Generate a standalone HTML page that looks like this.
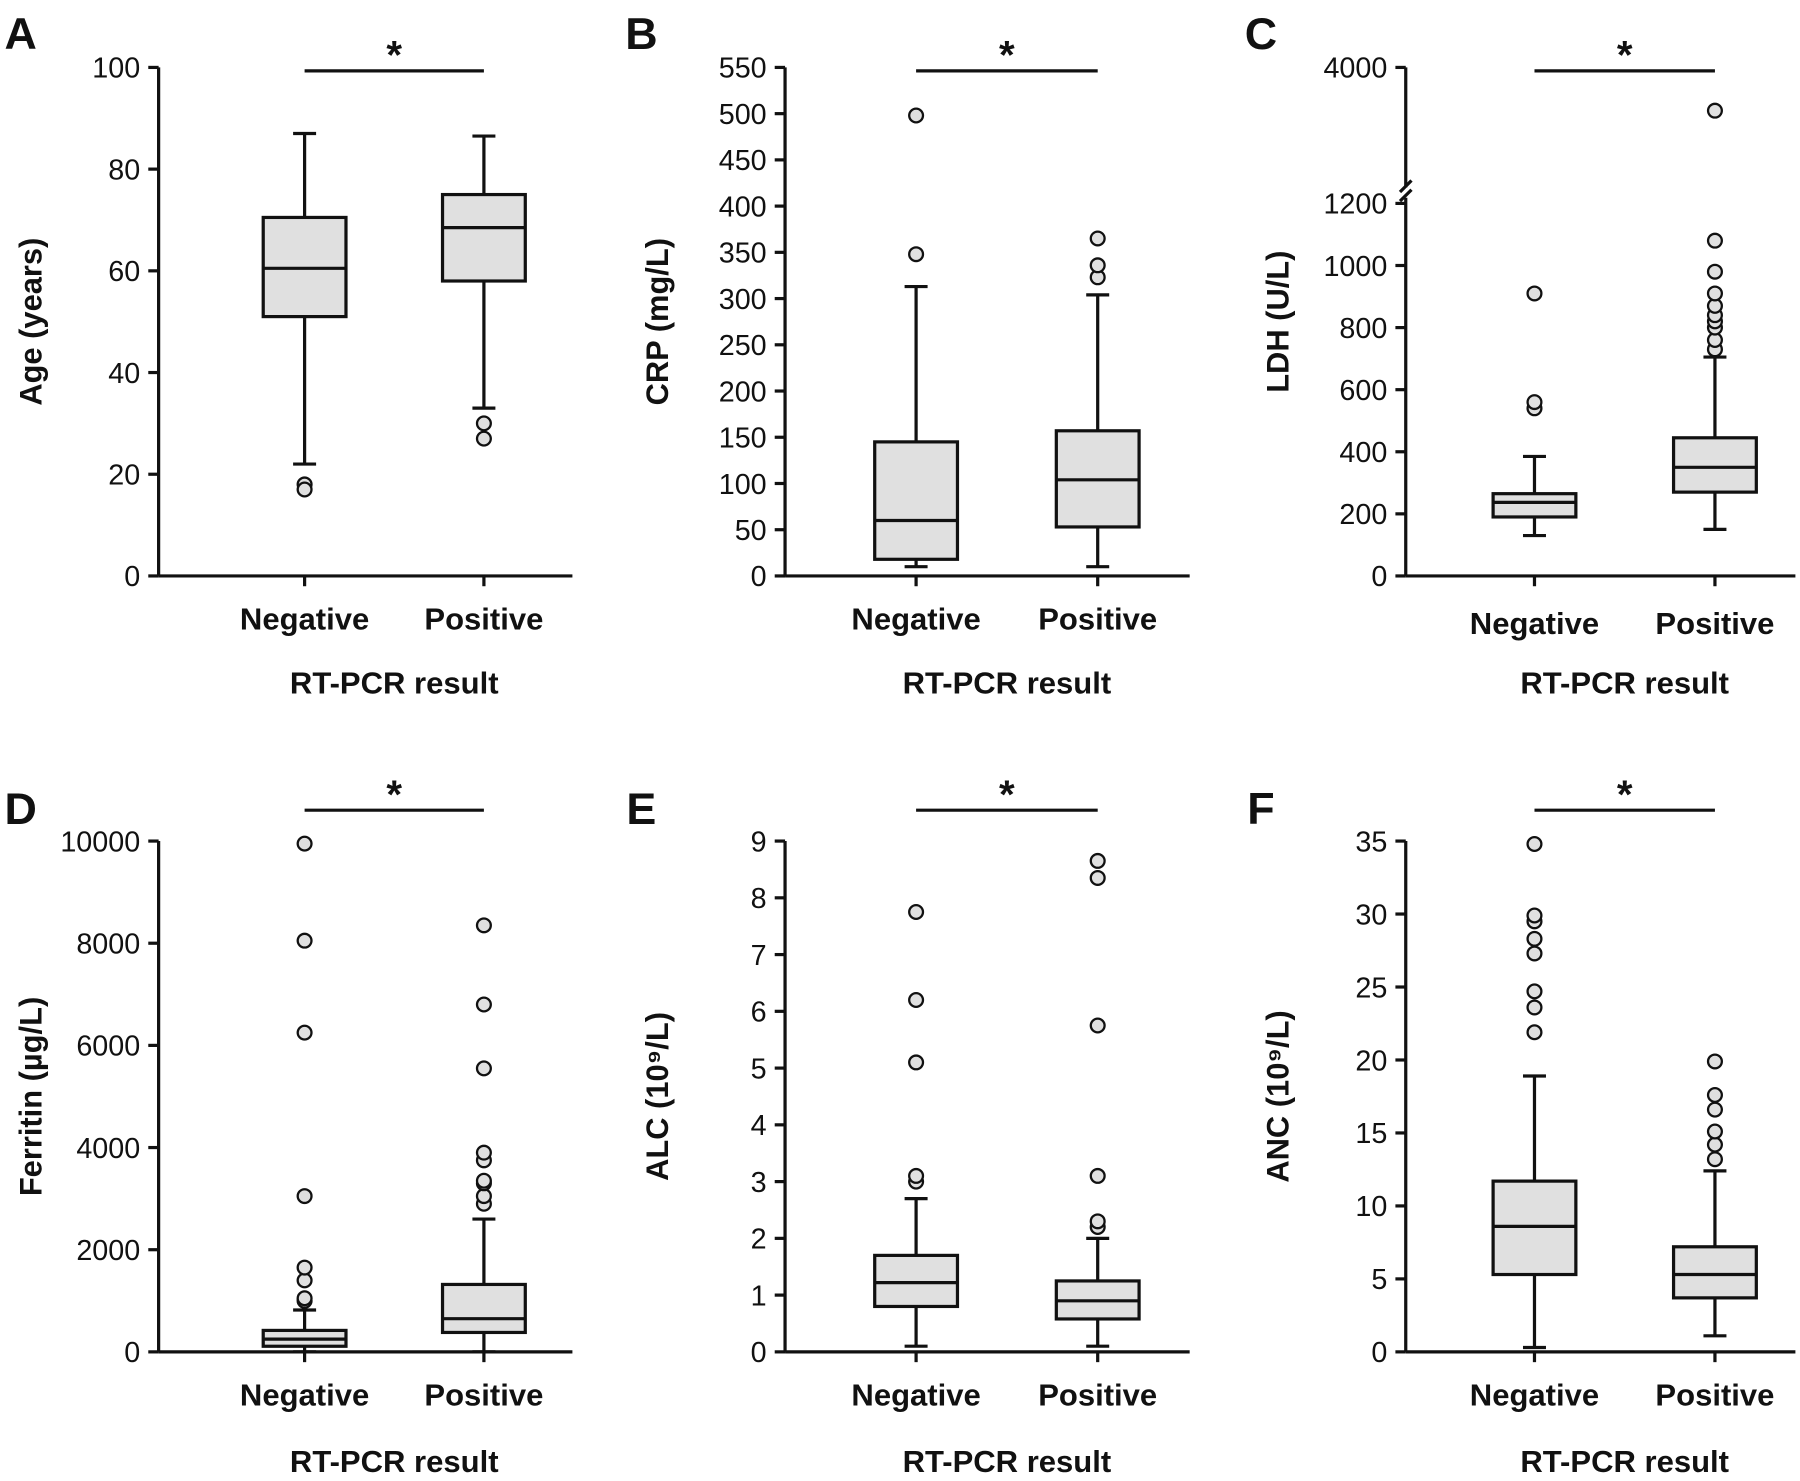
<!DOCTYPE html>
<html><head><meta charset="utf-8"><style>
html,body{margin:0;padding:0;background:#fff;}
svg{display:block;}
text{font-family:"Liberation Sans",Arial,sans-serif;fill:#111;}
</style></head><body>
<svg id="fig" width="1800" height="1481" viewBox="0 0 1566 1296" preserveAspectRatio="none" xmlns="http://www.w3.org/2000/svg"></svg>
<script>
const panelLetters = ["A","B","C","D","E","F"];
const yTitles = ["Age (years)","CRP (mg/L)","LDH (U/L)","Ferritin (µg/L)","ALC (10⁹/L)","ANC (10⁹/L)"];
const categories = ["Negative","Positive"];
const ticksA = [0,20,40,60,80,100];
const ticksB = [0,50,100,150,200,250,300,350,400,450,500,550];
const ticksC = [0,200,400,600,800,1000,1200];
const ticksD = [0,2000,4000,6000,8000,10000];
const ticksE = [0,1,2,3,4,5,6,7,8,9];
const ticksF = [0,5,10,15,20,25,30,35];
// [whiskerLow, q1, median, q3, whiskerHigh]
const statsA = [[22,51,60.5,70.5,87],[33,58,68.5,75,86.5]];
const outA = [[18,17],[30,27]];
const statsB = [[10,18,60,145,313],[10,53,104,157,304]];
const outB = [[348,498],[323,336,365]];
const statsC = [[130,190,237,265,385],[150,270,350,445,705]];
const outC = [[540,560,910],[730,760,800,820,840,870,910,980,1080,3000]];
const statsD = [[0,110,250,420,820],[0,380,650,1320,2600]];
const outD = [[1000,1050,1400,1650,3050,6250,8050,9950],[2900,3050,3300,3350,3750,3900,5550,6800,8350]];
const statsE = [[0.1,0.8,1.22,1.7,2.7],[0.1,0.58,0.9,1.25,2.0]];
const outE = [[3.0,3.1,5.1,6.2,7.75],[2.2,2.3,3.1,5.75,8.35,8.65]];
const statsF = [[0.3,5.3,8.6,11.7,18.9],[1.1,3.7,5.3,7.2,12.4]];
const outF = [[21.9,23.6,24.7,27.3,28.3,29.5,29.9,34.8],[13.2,14.2,15.1,16.6,17.6,19.9]];

const NS="http://www.w3.org/2000/svg";
const svg=document.getElementById('fig');
const SW=2.8;
function mk(tag,attrs,parent,txt){const e=document.createElementNS(NS,tag);for(const k in attrs)e.setAttribute(k,attrs[k]);if(txt!==undefined)e.textContent=txt;(parent||svg).appendChild(e);return e;}

const panels=[
 {ax:138,x0:265,x1:421,xe:498,y0:504,yt:59,max:100,ticks:ticksA,stats:statsA,out:outA,lx:18,ly:30,sy:62,cly:541,tly:597},
 {ax:683,x0:797,x1:955,xe:1035,y0:504,yt:59,max:550,ticks:ticksB,stats:statsB,out:outB,lx:558,ly:30,sy:62,cly:541,tly:597},
 {ax:1223,x0:1335,x1:1492,xe:1562,y0:504,yt:178,max:1200,ticks:ticksC,stats:statsC,out:outC,lx:1097,ly:30,sy:62,cly:545,tly:597,brk:true},
 {ax:138,x0:265,x1:421,xe:498,y0:1183,yt:736,max:10000,ticks:ticksD,stats:statsD,out:outD,lx:18,ly:708,sy:709,cly:1220,tly:1278},
 {ax:683,x0:797,x1:955,xe:1035,y0:1183,yt:736,max:9,ticks:ticksE,stats:statsE,out:outE,lx:558,ly:708,sy:709,cly:1220,tly:1278},
 {ax:1223,x0:1335,x1:1492,xe:1562,y0:1183,yt:736,max:35,ticks:ticksF,stats:statsF,out:outF,lx:1097,ly:708,sy:709,cly:1220,tly:1278},
];
panels.forEach((p,i)=>{
 const g=mk('g',{});
 
 
 const y=v=>{
  if(p.brk && v>1200) return 165-(v-1200)/(4000-1200)*(165-59);
  return p.y0-v/p.max*(p.y0-p.yt);
 };
 const t=mk('text',{x:p.lx,y:p.ly+13,'font-size':39,'font-weight':'bold','text-anchor':'middle'},g,panelLetters[i]);
 
 const ax=mk('g',{stroke:'#111','stroke-width':SW,fill:'none'},g);
 
 if(p.brk){
  mk('line',{x1:p.ax,y1:p.y0,x2:p.ax,y2:173},ax);
  mk('line',{x1:p.ax,y1:164,x2:p.ax,y2:59},ax);
  mk('line',{x1:p.ax-5,y1:176,x2:p.ax+5,y2:166},ax);
  mk('line',{x1:p.ax-5,y1:168,x2:p.ax+5,y2:158},ax);
  mk('line',{x1:p.ax-9,y1:59,x2:p.ax,y2:59},ax);
  const tl=mk('text',{x:p.ax-16,y:68,'font-size':25,'text-anchor':'end',stroke:'none',fill:'#111'},g,'4000');
  
 } else mk('line',{x1:p.ax,y1:p.y0,x2:p.ax,y2:p.yt},ax);
 const xa=mk('line',{x1:p.ax,y1:p.y0,x2:p.xe,y2:p.y0,stroke:'#111','stroke-width':SW},g);
 
 p.ticks.forEach(v=>{
  mk('line',{x1:p.ax-9,y1:y(v),x2:p.ax,y2:y(v),stroke:'#111','stroke-width':SW},g);
  const tl=mk('text',{x:p.ax-16,y:y(v)+9,'font-size':25,'text-anchor':'end'},g,String(v));
  
 });
 const yl=mk('text',{x:0,y:0,'font-size':27,'font-weight':'bold','text-anchor':'middle',transform:`translate(${p.ax-102},${(p.y0+ (p.brk?59:p.yt))/2}) rotate(-90)`},g,yTitles[i]);
 
 const xs=[p.x0,p.x1];
 categories.forEach((c,k)=>{
  mk('line',{x1:xs[k],y1:p.y0,x2:xs[k],y2:p.y0+9,stroke:'#111','stroke-width':SW},g);
  const cl=mk('text',{x:xs[k],y:p.cly+10,'font-size':27,'font-weight':'bold','text-anchor':'middle'},g,c);
  
  const s=p.stats[k], bw=36, cx=xs[k];
  const bx=mk('g',{stroke:'#111','stroke-width':SW},g);
  
  mk('line',{x1:cx,y1:y(s[0]),x2:cx,y2:y(s[1])},bx);
  mk('line',{x1:cx,y1:y(s[3]),x2:cx,y2:y(s[4])},bx);
  mk('line',{x1:cx-10,y1:y(s[0]),x2:cx+10,y2:y(s[0])},bx);
  mk('line',{x1:cx-10,y1:y(s[4]),x2:cx+10,y2:y(s[4])},bx);
  mk('rect',{x:cx-bw,y:y(s[3]),width:bw*2,height:y(s[1])-y(s[3]),fill:'#e0e0e0'},bx);
  mk('line',{x1:cx-bw,y1:y(s[2]),x2:cx+bw,y2:y(s[2])},bx);
  p.out[k].forEach(v=>{
   const o=mk('circle',{cx:cx,cy:y(v),r:6,fill:'#e0e0e0',stroke:'#111','stroke-width':2},g);
   
  });
 });
 const sb=mk('line',{x1:p.x0,y1:p.sy,x2:p.x1,y2:p.sy,stroke:'#111','stroke-width':SW},g);
 
 const st=mk('text',{x:(p.x0+p.x1)/2,y:p.sy-2,'font-size':35,'font-weight':'bold','text-anchor':'middle'},g,'*');
 
 const xt=mk('text',{x:(p.x0+p.x1)/2,y:p.tly+10,'font-size':27,'font-weight':'bold','text-anchor':'middle'},g,'RT-PCR result');
 
});
</script>
</body></html>
